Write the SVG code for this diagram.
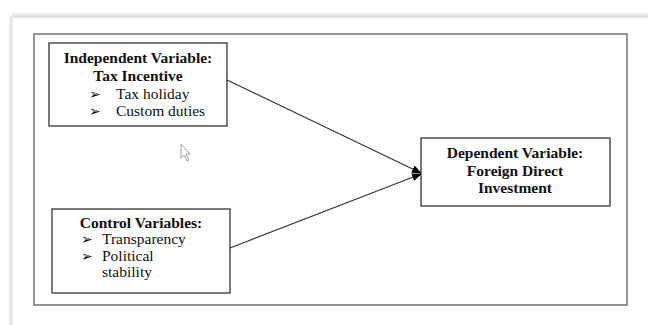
<svg xmlns="http://www.w3.org/2000/svg" width="648" height="325" viewBox="0 0 648 325">
<defs>
<linearGradient id="shTop" x1="0" y1="0" x2="0" y2="1">
<stop offset="0" stop-color="#ffffff"/><stop offset="0.6" stop-color="#dcdcdc"/><stop offset="1" stop-color="#ececec"/>
</linearGradient>
<linearGradient id="shLeft" x1="0" y1="0" x2="1" y2="0">
<stop offset="0" stop-color="#ffffff"/><stop offset="0.6" stop-color="#e2e2e2"/><stop offset="1" stop-color="#efefef"/>
</linearGradient>
<marker id="arr" viewBox="0 0 10 10" refX="9" refY="5" markerWidth="10" markerHeight="10" markerUnits="userSpaceOnUse" orient="auto">
<path d="M0,1 L10,5 L0,9 Z" fill="#000"/>
</marker>
</defs>
<style>
.box{fill:#fff;stroke:#222;stroke-width:1.2}
.t{font-family:"Liberation Serif","Times New Roman",serif;font-size:15.5px;fill:#111}
.b{font-weight:bold}
.c{text-anchor:middle}
.bul{font-family:"DejaVu Sans",sans-serif;font-size:14px;font-weight:bold;fill:#111}
.conn{stroke:#333;stroke-width:1.1;fill:none}
</style>
<rect x="0" y="0" width="648" height="325" fill="#fff"/>
<rect x="12" y="12" width="636" height="7" fill="url(#shTop)"/>
<rect x="8" y="16" width="5" height="309" fill="url(#shLeft)"/>
<rect x="13" y="18" width="635" height="307" fill="#fff"/>
<rect x="34" y="34" width="593" height="271" fill="none" stroke="#7a7a7a" stroke-width="1.6"/>
<g id="connectors">
<line class="conn" x1="227" y1="80" x2="421" y2="173" marker-end="url(#arr)"/>
<line class="conn" x1="230" y1="248" x2="421" y2="174" marker-end="url(#arr)"/>
</g>
<g id="node-independent">
<rect class="box" x="49" y="43" width="178" height="83"/>
<text class="t b c" x="138" y="63">Independent Variable:</text>
<text class="t b c" x="138" y="81">Tax Incentive</text>
<text class="bul" x="89" y="98.5">➢</text>
<text class="t" x="116" y="99">Tax holiday</text>
<text class="bul" x="89" y="115.5">➢</text>
<text class="t" x="116" y="116">Custom duties</text>
</g>
<g id="node-control">
<rect class="box" x="52" y="209" width="178" height="84"/>
<text class="t b c" x="141" y="228">Control Variables:</text>
<text class="bul" x="81" y="243.5">➢</text>
<text class="t" x="102" y="244">Transparency</text>
<text class="bul" x="81" y="260.5">➢</text>
<text class="t" x="102" y="261">Political</text>
<text class="t" x="102" y="277">stability</text>
</g>
<g id="node-dependent">
<rect class="box" x="421" y="138" width="189" height="68"/>
<text class="t b c" x="515" y="158">Dependent Variable:</text>
<text class="t b c" x="515" y="175.5">Foreign Direct</text>
<text class="t b c" x="515" y="193">Investment</text>
</g>
<path d="M181,144 L181,158 L184,155 L187,161 L189,160 L186,154 L190,154 Z" fill="#fff" stroke="#888" stroke-width="0.8"/>
</svg>
